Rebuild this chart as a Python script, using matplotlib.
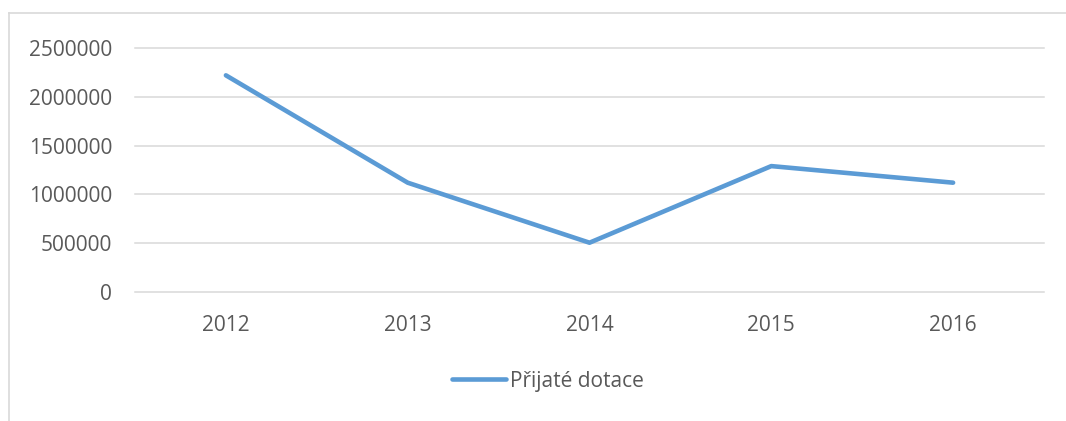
import matplotlib.pyplot as plt
from matplotlib.lines import Line2D

years = ['2012', '2013', '2014', '2015', '2016']
dotace = [2220000, 1120000, 505000, 1290000, 1120000]
series_name = 'Přijaté dotace'

plt.rcParams['font.family'] = ['Open Sans', 'DejaVu Sans']

fig = plt.figure(figsize=(10.66, 4.21), dpi=100)
ax = fig.add_axes([135/1066, 1-292/421, (1044-135)/1066, (292-48)/421])

x = range(len(years))
ax.plot(x, dotace, color='#5B9BD5', linewidth=3.3, solid_capstyle='round',
        label=series_name, zorder=3)

ax.set_xlim(-0.5, len(years)-0.5)
ax.set_ylim(0, 2500000)
ax.set_yticks(range(0, 2500001, 500000))
ax.set_yticklabels([str(v) for v in range(0, 2500001, 500000)])
ax.set_xticks(list(x))
ax.set_xticklabels(years)

ax.grid(axis='y', color='#d9d9d9', linewidth=1.1)
for gl in ax.get_ygridlines():
    gl.set_clip_on(False)
ax.set_axisbelow(True)
for s in ax.spines.values():
    s.set_visible(False)
ax.tick_params(length=0, labelsize=15, labelcolor='#595959')
ax.tick_params(axis='y', pad=16.5)
ax.tick_params(axis='x', pad=16.5)

leg = fig.legend(loc='center', bbox_to_anchor=(548/1066, 1-381/421), frameon=False,
                 fontsize=15, handlelength=2.6, handletextpad=0.2)
for t in leg.get_texts():
    t.set_color('#595959')

# outer chart frame, cut off at right and bottom
fig.add_artist(Line2D([8.5/1066, 8.5/1066], [-0.05, 1-13/421], transform=fig.transFigure,
                      color='#d9d9d9', linewidth=1.2))
fig.add_artist(Line2D([8.5/1066, 1.05], [1-13/421, 1-13/421], transform=fig.transFigure,
                      color='#d9d9d9', linewidth=1.2))

fig.savefig('out.png', dpi=100)
